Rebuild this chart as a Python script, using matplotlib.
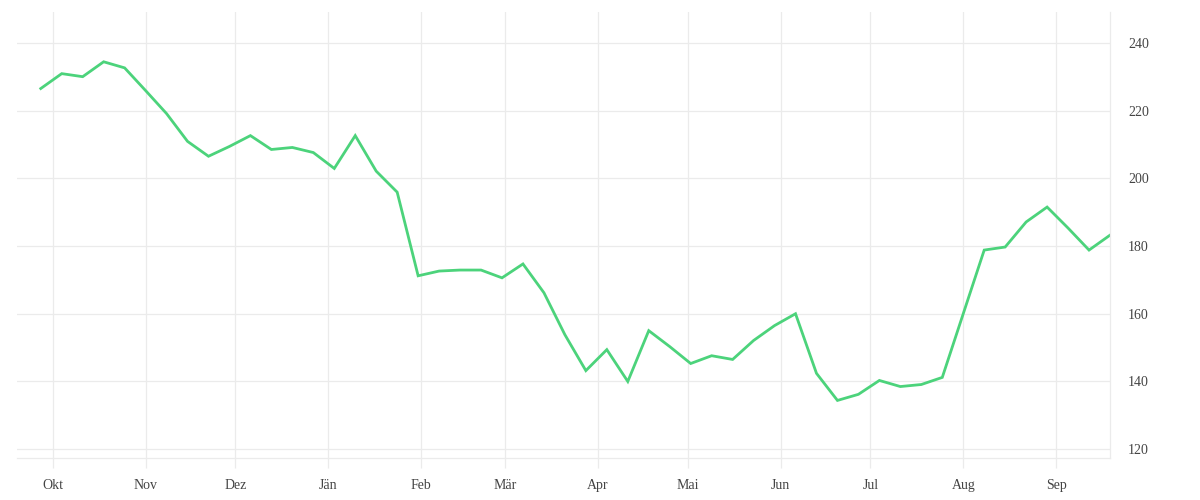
import pandas as pd
import matplotlib
matplotlib.use('Agg')
import matplotlib.pyplot as plt

# weekly values
start_date = '2018-09-27'
values = [226.5, 230.9, 230.0, 234.4, 232.6, 225.9, 219.1, 210.9, 206.5, 209.4,
          212.6, 208.5, 209.1, 207.6, 202.9, 212.6, 202.1, 195.9, 171.2, 172.6,
          172.9, 172.9, 170.6, 174.7, 166.2, 153.8, 143.2, 149.4, 140.0, 155.0,
          150.3, 145.3, 147.6, 146.5, 152.1, 156.5, 160.0, 142.4, 134.4, 136.2,
          140.3, 138.5, 139.1, 141.2, 160.0, 178.8, 179.7, 187.1, 191.5, 185.3,
          178.8, 183.2]
month_starts = ['2018-10-01', '2018-11-01', '2018-12-01', '2019-01-01', '2019-02-01',
                '2019-03-01', '2019-04-01', '2019-05-01', '2019-06-01', '2019-07-01',
                '2019-08-01', '2019-09-01']
month_labels = ['Okt', 'Nov', 'Dez', 'Jän', 'Feb', 'Mär', 'Apr', 'Mai', 'Jun', 'Jul', 'Aug', 'Sep']
y_ticks = [120, 140, 160, 180, 200, 220, 240]

dates = pd.date_range(start_date, periods=len(values), freq='7D')
grid_col = '#ebebeb'
text_col = '#444444'

fig = plt.figure(figsize=(12, 5), dpi=100)
ax = fig.add_axes([0.014, 0.084, 0.911, 0.892])

ax.plot(dates, values, color='#4cd37b', linewidth=2.0, solid_joinstyle='miter')

ax.set_xlim(pd.Timestamp('2018-09-19'), dates[-1])
ax.set_ylim(117.4, 249.1)

ax.set_xticks(pd.to_datetime(month_starts))
ax.set_xticklabels(month_labels)
ax.set_yticks(y_ticks)
ax.yaxis.tick_right()

ax.grid(True, color=grid_col, linewidth=0.9)
ax.set_axisbelow(True)
for side in ['top', 'left']:
    ax.spines[side].set_visible(False)
for side in ['bottom', 'right']:
    ax.spines[side].set_color(grid_col)
    ax.spines[side].set_linewidth(0.9)

ax.tick_params(axis='x', length=7, color=grid_col, width=0.9, pad=8,
               labelsize=10, labelcolor=text_col)
ax.tick_params(axis='y', length=0, pad=13, labelsize=10, labelcolor=text_col)
for lbl in ax.get_xticklabels() + ax.get_yticklabels():
    lbl.set_fontfamily('Liberation Serif')

fig.savefig('out.png', dpi=100)
